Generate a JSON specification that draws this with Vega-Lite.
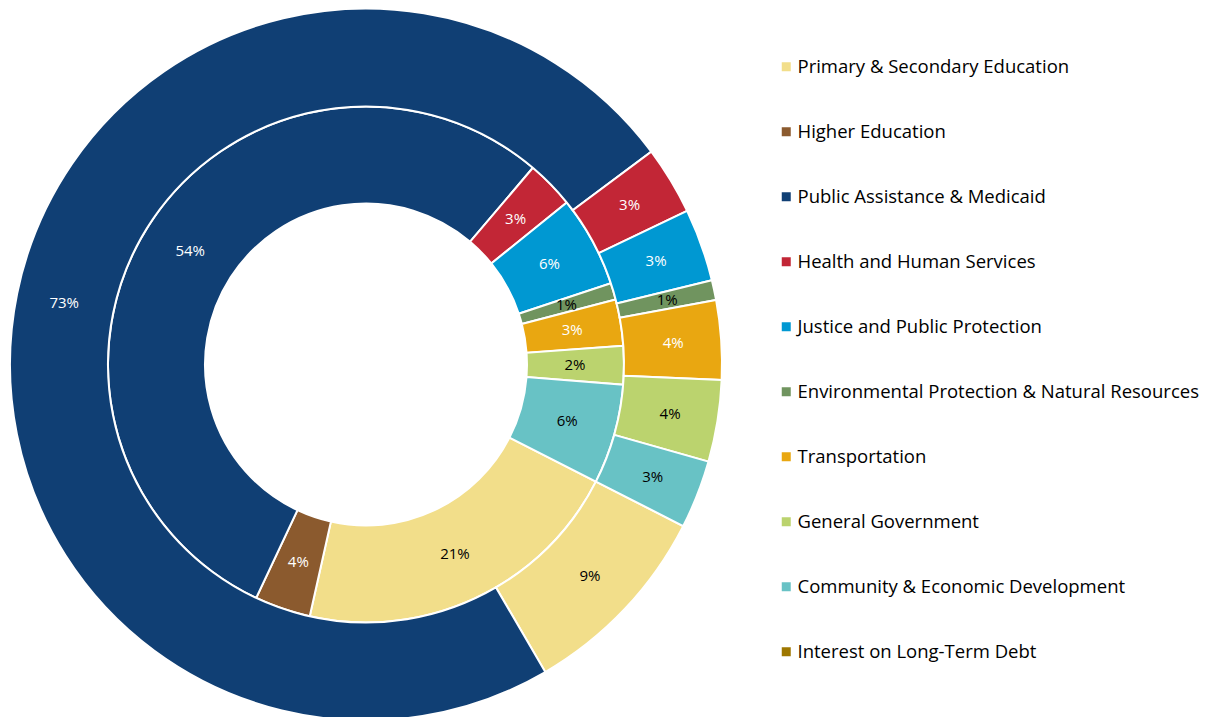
{
  "$schema": "https://vega.github.io/schema/vega-lite/v6.json",
  "width": 732,
  "height": 713,
  "padding": {"left": 0, "top": 4, "right": 0, "bottom": 0},
  "background": "white",
  "config": {"view": {"stroke": null}},
  "data": {
    "values": [
      {"ring": "inner", "idx": 1, "category": "Primary & Secondary Education", "value": 21.0, "label": "21%"},
      {"ring": "inner", "idx": 2, "category": "Higher Education", "value": 3.5, "label": "4%"},
      {"ring": "inner", "idx": 3, "category": "Public Assistance & Medicaid", "value": 54.2, "label": "54%"},
      {"ring": "inner", "idx": 4, "category": "Health and Human Services", "value": 3.0, "label": "3%"},
      {"ring": "inner", "idx": 5, "category": "Justice and Public Protection", "value": 5.7, "label": "6%"},
      {"ring": "inner", "idx": 6, "category": "Environmental Protection & Natural Resources", "value": 1.05, "label": "1%"},
      {"ring": "inner", "idx": 7, "category": "Transportation", "value": 2.9, "label": "3%"},
      {"ring": "inner", "idx": 8, "category": "General Government", "value": 2.4, "label": "2%"},
      {"ring": "inner", "idx": 9, "category": "Community & Economic Development", "value": 6.25, "label": "6%"},
      {"ring": "outer", "idx": 1, "category": "Primary & Secondary Education", "value": 9.1, "label": "9%"},
      {"ring": "outer", "idx": 3, "category": "Public Assistance & Medicaid", "value": 73.2, "label": "73%"},
      {"ring": "outer", "idx": 4, "category": "Health and Human Services", "value": 3.1, "label": "3%"},
      {"ring": "outer", "idx": 5, "category": "Justice and Public Protection", "value": 3.3, "label": "3%"},
      {"ring": "outer", "idx": 6, "category": "Environmental Protection & Natural Resources", "value": 0.9, "label": "1%"},
      {"ring": "outer", "idx": 7, "category": "Transportation", "value": 3.6, "label": "4%"},
      {"ring": "outer", "idx": 8, "category": "General Government", "value": 3.7, "label": "4%"},
      {"ring": "outer", "idx": 9, "category": "Community & Economic Development", "value": 3.1, "label": "3%"}
    ]
  },
  "encoding": {
    "theta": {"field": "value", "type": "quantitative", "stack": true, "scale": {"domain": [0, 100], "range": [2.042, 8.325]}},
    "order": {"field": "idx", "type": "quantitative"}
  },
  "layer": [
    {
      "transform": [{"filter": "datum.ring === 'inner'"}],
      "mark": {"type": "arc", "radius": 258, "radius2": 161, "stroke": "white", "strokeWidth": 2},
      "encoding": {
        "color": {
          "field": "category", "type": "nominal",
          "scale": {
            "domain": ["Primary & Secondary Education", "Higher Education", "Public Assistance & Medicaid", "Health and Human Services", "Justice and Public Protection", "Environmental Protection & Natural Resources", "Transportation", "General Government", "Community & Economic Development", "Interest on Long-Term Debt"],
            "range": ["#F2DE8A", "#8B5A2E", "#103F74", "#C22636", "#0098D2", "#70945F", "#E9A711", "#BBD36E", "#68C2C5", "#9E7700"]
          },
          "legend": {
            "orient": "none", "legendX": 777, "legendY": 49.5, "title": null,
            "symbolType": "square", "symbolSize": 81, "symbolStrokeWidth": 0,
            "labelFont": "Open Sans", "labelFontSize": 18.5, "labelColor": "black",
            "labelOffset": 2, "rowPadding": 46, "padding": 0, "labelLimit": 600
          }
        }
      }
    },
    {
      "transform": [{"filter": "datum.ring === 'outer'"}],
      "mark": {"type": "arc", "radius": 356, "radius2": 258, "stroke": "white", "strokeWidth": 2},
      "encoding": {
        "color": {"field": "category", "type": "nominal"}
      }
    },
    {
      "transform": [{"filter": "datum.ring === 'inner'"}],
      "mark": {"type": "text", "radius": 209, "font": "Open Sans", "fontSize": 15},
      "encoding": {
        "text": {"field": "label"},
        "color": {"condition": {"test": "indexof(['Public Assistance & Medicaid','Higher Education','Health and Human Services','Justice and Public Protection','Transportation'], datum.category) >= 0", "value": "white"}, "value": "black"}
      }
    },
    {
      "transform": [{"filter": "datum.ring === 'outer'"}],
      "mark": {"type": "text", "radius": 308, "font": "Open Sans", "fontSize": 15},
      "encoding": {
        "text": {"field": "label"},
        "color": {"condition": {"test": "indexof(['Public Assistance & Medicaid','Higher Education','Health and Human Services','Justice and Public Protection','Transportation'], datum.category) >= 0", "value": "white"}, "value": "black"}
      }
    }
  ]
}
